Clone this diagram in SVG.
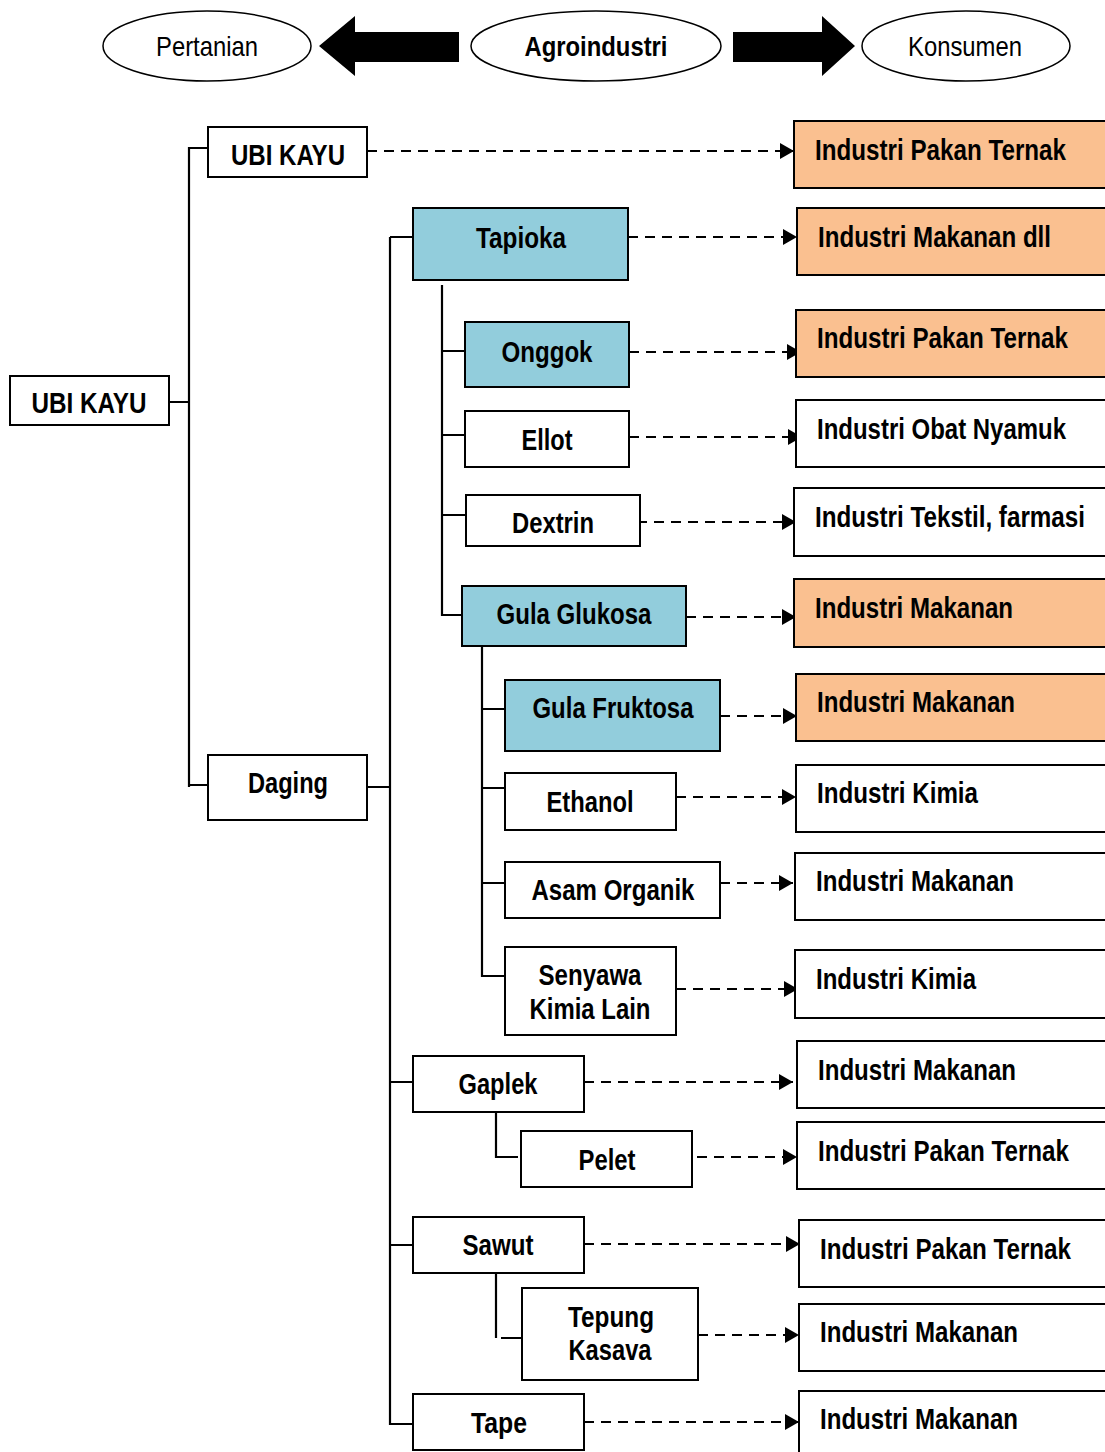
<svg xmlns="http://www.w3.org/2000/svg" width="1105" height="1452" viewBox="0 0 1105 1452">
<style>
.b{fill:#fff;stroke:#000;stroke-width:2}
.c{fill:#92CDDC;stroke:#000;stroke-width:2}
.o{fill:#FAC090;stroke:#000;stroke-width:2}
.t{font-family:"Liberation Sans",Arial,sans-serif;font-weight:bold;font-size:29px;fill:#000}
.m{text-anchor:middle}
.e{fill:#fff;stroke:#000;stroke-width:1.5}
.r{font-family:"Liberation Sans",Arial,sans-serif;font-size:28px;fill:#000;text-anchor:middle}
.l{fill:none;stroke:#000;stroke-width:2.2}
.d{fill:none;stroke:#000;stroke-width:2.2;stroke-dasharray:10 7;marker-end:url(#ah)}
</style>
<defs>
<marker id="ah" markerUnits="userSpaceOnUse" markerWidth="16" markerHeight="18" refX="14" refY="9" orient="auto">
<path d="M0,1 L14,9 L0,17 z" fill="#000"/>
</marker>
</defs>

<g id="header">
<g id="n-pertanian"><ellipse class="e" cx="207" cy="46" rx="104" ry="35"/><text class="r" x="207" y="56" textLength="102" lengthAdjust="spacingAndGlyphs">Pertanian</text></g>
<g id="n-agroindustri"><ellipse class="e" cx="596" cy="46" rx="125" ry="35"/><text class="r" x="596" y="56" font-weight="bold" textLength="143" lengthAdjust="spacingAndGlyphs">Agroindustri</text></g>
<g id="n-konsumen"><ellipse class="e" cx="966" cy="46" rx="104" ry="35"/><text class="r" x="965" y="56" textLength="114" lengthAdjust="spacingAndGlyphs">Konsumen</text></g>
<path d="M459,32 L355,32 L355,16 L319,46 L355,76 L355,62 L459,62 z" fill="#000"/>
<path d="M733,32 L822,32 L822,16 L855,46 L822,76 L822,62 L733,62 z" fill="#000"/>
</g>

<g id="connectors">
<path class="l" d="M169,402 H189 M189,147 V787 M189,148 H208 M189,785 H208"/>
<path class="l" d="M367,787 H390 M390,237 V1425 M390,237 H413 M390,1082 H413 M390,1245 H413 M390,1424 H413"/>
<path class="l" d="M442,285 V615 H462 M442,351 H465 M442,435 H465 M442,515 H466"/>
<path class="l" d="M482,646 V976 H505 M482,709 H505 M482,788 H505 M482,883 H505"/>
<path class="l" d="M496,1112 V1157 H518"/>
<path class="l" d="M496,1273 V1338 M501,1338 H522"/>
<path class="d" d="M367,151 H794"/>
<path class="d" d="M628,237 H797"/>
<path class="d" d="M629,352 H801"/>
<path class="d" d="M629,437 H802"/>
<path class="d" d="M637,522 H796"/>
<path class="d" d="M686,617 H796"/>
<path class="d" d="M720,716 H797"/>
<path class="d" d="M676,797 H796"/>
<path class="d" d="M720,883 H793"/>
<path class="d" d="M676,989 H798"/>
<path class="d" d="M584,1082 H793"/>
<path class="d" d="M697,1157 H797"/>
<path class="d" d="M584,1244 H800"/>
<path class="d" d="M698,1335 H799"/>
<path class="d" d="M584,1422 H799"/>
</g>

<g id="n-ubikayu-root"><rect class="b" x="10" y="376" width="159" height="49"/><text class="t m" x="89" y="413" textLength="115" lengthAdjust="spacingAndGlyphs">UBI KAYU</text></g>
<g id="n-ubikayu"><rect class="b" x="208" y="127" width="159" height="50"/><text class="t m" x="288" y="165" textLength="114" lengthAdjust="spacingAndGlyphs">UBI KAYU</text></g>
<g id="n-daging"><rect class="b" x="208" y="755" width="159" height="65"/><text class="t m" x="288" y="793" textLength="80" lengthAdjust="spacingAndGlyphs">Daging</text></g>
<g id="n-tapioka"><rect class="c" x="413" y="208" width="215" height="72"/><text class="t m" x="521" y="248" textLength="90" lengthAdjust="spacingAndGlyphs">Tapioka</text></g>
<g id="n-onggok"><rect class="c" x="465" y="322" width="164" height="65"/><text class="t m" x="547" y="362" textLength="91" lengthAdjust="spacingAndGlyphs">Onggok</text></g>
<g id="n-ellot"><rect class="b" x="465" y="411" width="164" height="56"/><text class="t m" x="547" y="450" textLength="51" lengthAdjust="spacingAndGlyphs">Ellot</text></g>
<g id="n-dextrin"><rect class="b" x="466" y="495" width="174" height="51"/><text class="t m" x="553" y="533" textLength="82" lengthAdjust="spacingAndGlyphs">Dextrin</text></g>
<g id="n-glukosa"><rect class="c" x="462" y="586" width="224" height="60"/><text class="t m" x="574" y="624" textLength="155" lengthAdjust="spacingAndGlyphs">Gula Glukosa</text></g>
<g id="n-fruktosa"><rect class="c" x="505" y="680" width="215" height="71"/><text class="t m" x="613" y="718" textLength="161" lengthAdjust="spacingAndGlyphs">Gula Fruktosa</text></g>
<g id="n-ethanol"><rect class="b" x="505" y="773" width="171" height="57"/><text class="t m" x="590" y="812" textLength="87" lengthAdjust="spacingAndGlyphs">Ethanol</text></g>
<g id="n-asam"><rect class="b" x="505" y="862" width="215" height="56"/><text class="t m" x="613" y="900" textLength="163" lengthAdjust="spacingAndGlyphs">Asam Organik</text></g>
<g id="n-senyawa"><rect class="b" x="505" y="947" width="171" height="88"/><text class="t m" x="590" y="985" textLength="103" lengthAdjust="spacingAndGlyphs">Senyawa</text><text class="t m" x="590" y="1019" textLength="121" lengthAdjust="spacingAndGlyphs">Kimia Lain</text></g>
<g id="n-gaplek"><rect class="b" x="413" y="1056" width="171" height="56"/><text class="t m" x="498" y="1094" textLength="79" lengthAdjust="spacingAndGlyphs">Gaplek</text></g>
<g id="n-pelet"><rect class="b" x="521" y="1131" width="171" height="56"/><text class="t m" x="607" y="1170" textLength="57" lengthAdjust="spacingAndGlyphs">Pelet</text></g>
<g id="n-sawut"><rect class="b" x="413" y="1217" width="171" height="56"/><text class="t m" x="498" y="1255" textLength="71" lengthAdjust="spacingAndGlyphs">Sawut</text></g>
<g id="n-tepung"><rect class="b" x="522" y="1288" width="176" height="92"/><text class="t m" x="611" y="1327" textLength="86" lengthAdjust="spacingAndGlyphs">Tepung</text><text class="t m" x="610" y="1360" textLength="83" lengthAdjust="spacingAndGlyphs">Kasava</text></g>
<g id="n-tape"><rect class="b" x="413" y="1394" width="171" height="56"/><text class="t m" x="499" y="1433" textLength="56" lengthAdjust="spacingAndGlyphs">Tape</text></g>

<g id="i1"><rect class="o" x="794" y="121" width="313" height="67"/><text class="t" x="815" y="160" textLength="251" lengthAdjust="spacingAndGlyphs">Industri Pakan Ternak</text></g>
<g id="i2"><rect class="o" x="797" y="208" width="310" height="67"/><text class="t" x="818" y="247" textLength="233" lengthAdjust="spacingAndGlyphs">Industri Makanan dll</text></g>
<g id="i3"><rect class="o" x="796" y="310" width="311" height="67"/><text class="t" x="817" y="348" textLength="251" lengthAdjust="spacingAndGlyphs">Industri Pakan Ternak</text></g>
<g id="i4"><rect class="b" x="796" y="400" width="311" height="67"/><text class="t" x="817" y="439" textLength="249" lengthAdjust="spacingAndGlyphs">Industri Obat Nyamuk</text></g>
<g id="i5"><rect class="b" x="794" y="488" width="313" height="68"/><text class="t" x="815" y="527" textLength="270" lengthAdjust="spacingAndGlyphs">Industri Tekstil, farmasi</text></g>
<g id="i6"><rect class="o" x="794" y="579" width="313" height="68"/><text class="t" x="815" y="618" textLength="198" lengthAdjust="spacingAndGlyphs">Industri Makanan</text></g>
<g id="i7"><rect class="o" x="796" y="674" width="311" height="67"/><text class="t" x="817" y="712" textLength="198" lengthAdjust="spacingAndGlyphs">Industri Makanan</text></g>
<g id="i8"><rect class="b" x="796" y="765" width="311" height="67"/><text class="t" x="817" y="803" textLength="161" lengthAdjust="spacingAndGlyphs">Industri Kimia</text></g>
<g id="i9"><rect class="b" x="795" y="853" width="312" height="67"/><text class="t" x="816" y="891" textLength="198" lengthAdjust="spacingAndGlyphs">Industri Makanan</text></g>
<g id="i10"><rect class="b" x="795" y="950" width="312" height="68"/><text class="t" x="816" y="989" textLength="160" lengthAdjust="spacingAndGlyphs">Industri Kimia</text></g>
<g id="i11"><rect class="b" x="797" y="1041" width="310" height="67"/><text class="t" x="818" y="1080" textLength="198" lengthAdjust="spacingAndGlyphs">Industri Makanan</text></g>
<g id="i12"><rect class="b" x="797" y="1122" width="310" height="67"/><text class="t" x="818" y="1161" textLength="251" lengthAdjust="spacingAndGlyphs">Industri Pakan Ternak</text></g>
<g id="i13"><rect class="b" x="799" y="1220" width="308" height="67"/><text class="t" x="820" y="1259" textLength="251" lengthAdjust="spacingAndGlyphs">Industri Pakan Ternak</text></g>
<g id="i14"><rect class="b" x="799" y="1304" width="308" height="67"/><text class="t" x="820" y="1342" textLength="198" lengthAdjust="spacingAndGlyphs">Industri Makanan</text></g>
<g id="i15"><rect class="b" x="799" y="1391" width="308" height="63"/><text class="t" x="820" y="1429" textLength="198" lengthAdjust="spacingAndGlyphs">Industri Makanan</text></g>
</svg>
